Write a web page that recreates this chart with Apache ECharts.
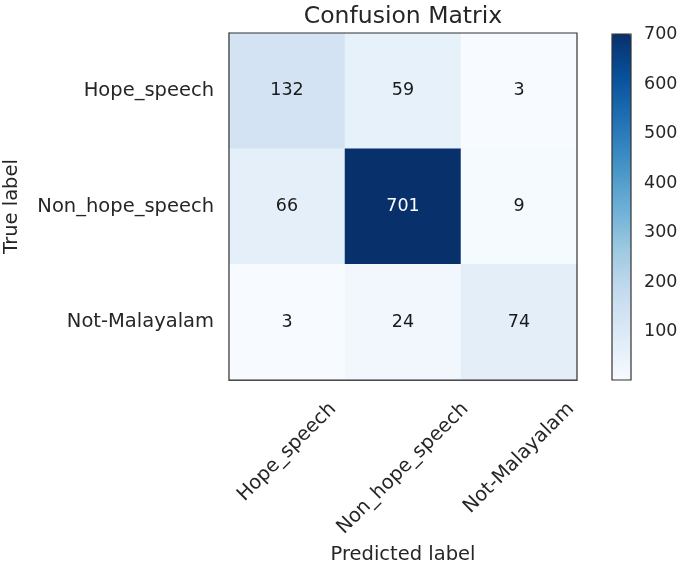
<!DOCTYPE html>
<html>
<head>
<meta charset="utf-8">
<script src="https://cdn.jsdelivr.net/npm/echarts@6/dist/echarts.min.js"></script>
<style>
html,body{margin:0;padding:0;background:#fff;}
#chart{width:685px;height:568px;}
</style>
</head>
<body>
<div id="chart"></div>
<script>
// ---- data ----
var title = 'Confusion Matrix';
var predictedLabels = ['Hope_speech', 'Non_hope_speech', 'Not-Malayalam'];
var trueLabels = ['Hope_speech', 'Non_hope_speech', 'Not-Malayalam'];
var rowHope = [132, 59, 3];
var rowNonHope = [66, 701, 9];
var rowNotMal = [3, 24, 74];
var colorbarTicks = [100, 200, 300, 400, 500, 600, 700];
var xName = 'Predicted label';
var yName = 'True label';

var matrix = [rowHope, rowNonHope, rowNotMal];
var FONT = '"DejaVu Sans", sans-serif';
var TXT = '#262626';
var blues = ['#f7fbff','#deebf7','#c6dbef','#9ecae1','#6baed6','#4292c6','#2171b5','#08519c','#08306b'];

var all = [].concat.apply([], matrix);
var vmin = Math.min.apply(null, all), vmax = Math.max.apply(null, all);
var thresh = vmax / 2;

var data = [];
matrix.forEach(function (row, i) {
  row.forEach(function (v, j) {
    data.push({ value: [j, i, v], label: { color: v > thresh ? '#ffffff' : '#1a1a1a' } });
  });
});

// rotated x labels centred under their ticks (matplotlib ha='center'):
// a blank line above and a spacer after the text, each half the text width.
var ctx = document.createElement('canvas').getContext('2d');
var xLabelSize = 19.5;
ctx.font = xLabelSize + 'px "DejaVu Sans"';
var xRich = { t: { fontFamily: FONT, fontSize: xLabelSize, color: TXT } };
predictedLabels.forEach(function (s, i) {
  var w = ctx.measureText(s).width;
  xRich['p' + i] = { height: 0.5 * w, fontSize: 1, color: 'rgba(0,0,0,0)' };
  xRich['g' + i] = { width: 0.5 * w, fontSize: 1, color: 'rgba(0,0,0,0)' };
});

var chart = echarts.init(document.getElementById('chart'), null, { renderer: 'canvas' });
chart.setOption({
  animation: false,
  backgroundColor: '#ffffff',
  title: {
    text: title, left: 398, top: 0, textAlign: 'center',
    textStyle: { fontFamily: FONT, fontSize: 23.5, fontWeight: 'normal', color: TXT }
  },
  grid: [
    { left: 229, top: 33, width: 348, height: 347, show: true, borderColor: '#333', borderWidth: 1.2, backgroundColor: 'transparent', z: 5, outerBoundsMode: 'none', containLabel: false },
    { left: 612, top: 34, width: 19, height: 346, show: true, borderColor: '#333', borderWidth: 1.2, backgroundColor: 'transparent', z: 10, outerBoundsMode: 'none', containLabel: false }
  ],
  xAxis: [
    {
      type: 'category', gridIndex: 0, data: predictedLabels,
      name: xName, nameLocation: 'middle', nameGap: 165,
      nameTextStyle: { fontFamily: FONT, fontSize: 19.5, color: TXT },
      axisLine: { lineStyle: { color: '#333', width: 1.2 } },
      axisTick: { alignWithLabel: true, length: 6, lineStyle: { color: '#333' } },
      axisLabel: { interval: 0, rotate: 45, align: 'center', verticalAlign: 'middle', margin: 26,
        fontFamily: FONT, fontSize: xLabelSize, color: TXT,
        formatter: function (v, i) { return '{p' + i + '| }\n{t|' + v + '}{g' + i + '| }'; },
        rich: xRich },
      splitLine: { show: false }, splitArea: { show: false }
    },
    { type: 'value', gridIndex: 1, show: false, min: 0, max: 1 }
  ],
  yAxis: [
    {
      type: 'category', gridIndex: 0, data: trueLabels, inverse: true,
      name: yName, nameLocation: 'middle', nameGap: 207,
      nameTextStyle: { fontFamily: FONT, fontSize: 19.5, color: TXT },
      axisLine: { lineStyle: { color: '#333', width: 1.2 } },
      axisTick: { alignWithLabel: true, length: 5, lineStyle: { color: '#333' } },
      axisLabel: { margin: 15, fontFamily: FONT, fontSize: 19.5, color: TXT },
      splitLine: { show: false }, splitArea: { show: false }
    },
    {
      type: 'value', gridIndex: 1, position: 'right', min: vmin, max: vmax,
      axisLine: { show: false },
      axisTick: { show: true, inside: false, length: 6, lineStyle: { color: '#333' }, customValues: colorbarTicks },
      axisLabel: { margin: 13, fontFamily: FONT, fontSize: 17.5, color: TXT, customValues: colorbarTicks },
      splitLine: { show: false }
    }
  ],
  visualMap: {
    type: 'continuous', min: vmin, max: vmax, seriesIndex: 0,
    calculable: false, realtime: false, hoverLink: false,
    orient: 'vertical', left: 612, top: 34, itemWidth: 19, itemHeight: 346,
    padding: 0, text: null, showLabel: false,
    inRange: { color: blues }
  },
  series: [{
    type: 'heatmap', xAxisIndex: 0, yAxisIndex: 0, data: data,
    label: { show: true, fontFamily: FONT, fontSize: 17.5 },
    itemStyle: { borderWidth: 0 },
    emphasis: { disabled: true }
  }]
});
</script>
</body>
</html>
